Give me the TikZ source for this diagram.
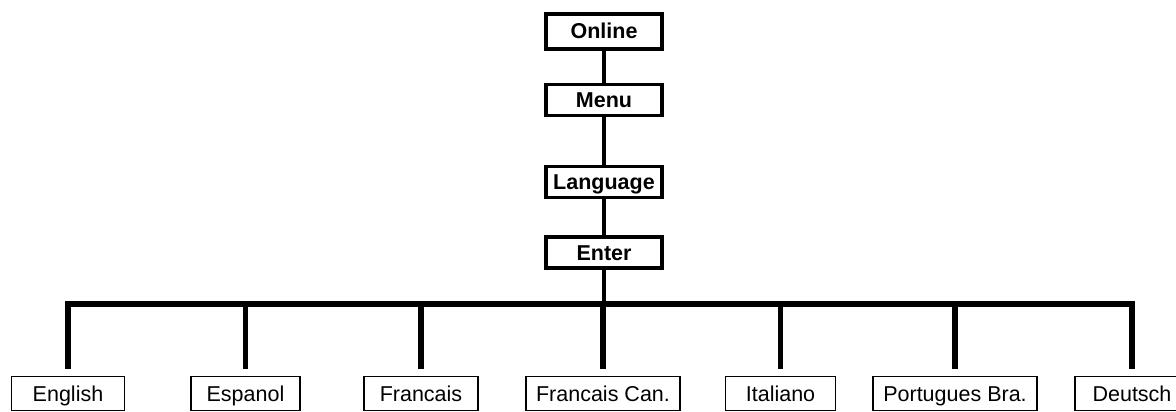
\documentclass[tikz,border=0pt]{standalone}
\usepackage{fontspec}
\setmainfont{Liberation Sans}
\begin{document}
\begin{tikzpicture}[x=1pt,y=-1pt,
  menubox/.style={draw, line width=3.6pt, minimum width=116pt, minimum height=31pt,
    inner sep=0pt, text height=15pt, text depth=0pt,
    font=\fontsize{21.5}{25}\selectfont\bfseries},
  langbox/.style={draw, line width=1.3pt, minimum height=34pt, inner sep=0pt,
    text height=15pt, text depth=0pt, font=\fontsize{21.5}{25}\selectfont},
  trunk/.style={line width=4.5pt},
  branch/.style={line width=5.5pt, line join=miter}]
\useasboundingbox (0,0) rectangle (1176,412);
\clip (0,0) rectangle (1176,412);

% menu path
\node[menubox, minimum height=35pt] (online)   at (604,31.5) {Online};
\node[menubox] (menu)     at (604,100)  {Menu};
\node[menubox] (language) at (604,182)  {Language};
\node[menubox] (enter)    at (604,252.5){Enter};
\coordinate (hub) at (604,304);

% language choices
\node[langbox, minimum width=113pt] (english)   at (68,393.5)   {English};
\node[langbox, minimum width=109pt] (espanol)   at (245.5,393.5){Espanol};
\node[langbox, minimum width=114pt] (francais)  at (421,393.5)  {Francais};
\node[langbox, minimum width=154pt] (francan)   at (603,393.5)  {Francais Can.};
\node[langbox, minimum width=110pt] (italiano)  at (780.5,393.5){Italiano};
\node[langbox, minimum width=164pt] (portugues) at (955,393.5)  {Portugues Bra.};
\node[langbox, minimum width=114pt] (deutsch)   at (1132,393.5) {Deutsch};

% connectors
\draw[trunk] (online) -- (menu) -- (language) -- (enter) -- (hub);
\draw[branch] ([yshift=7pt]english.north) -- (english.north |- hub)
  -- (deutsch.north |- hub) -- ([yshift=7pt]deutsch.north);
\foreach \n in {espanol,francais,francan,italiano,portugues}
  \draw[branch] (\n.north |- hub) -- ([yshift=7pt]\n.north);
\end{tikzpicture}
\end{document}
